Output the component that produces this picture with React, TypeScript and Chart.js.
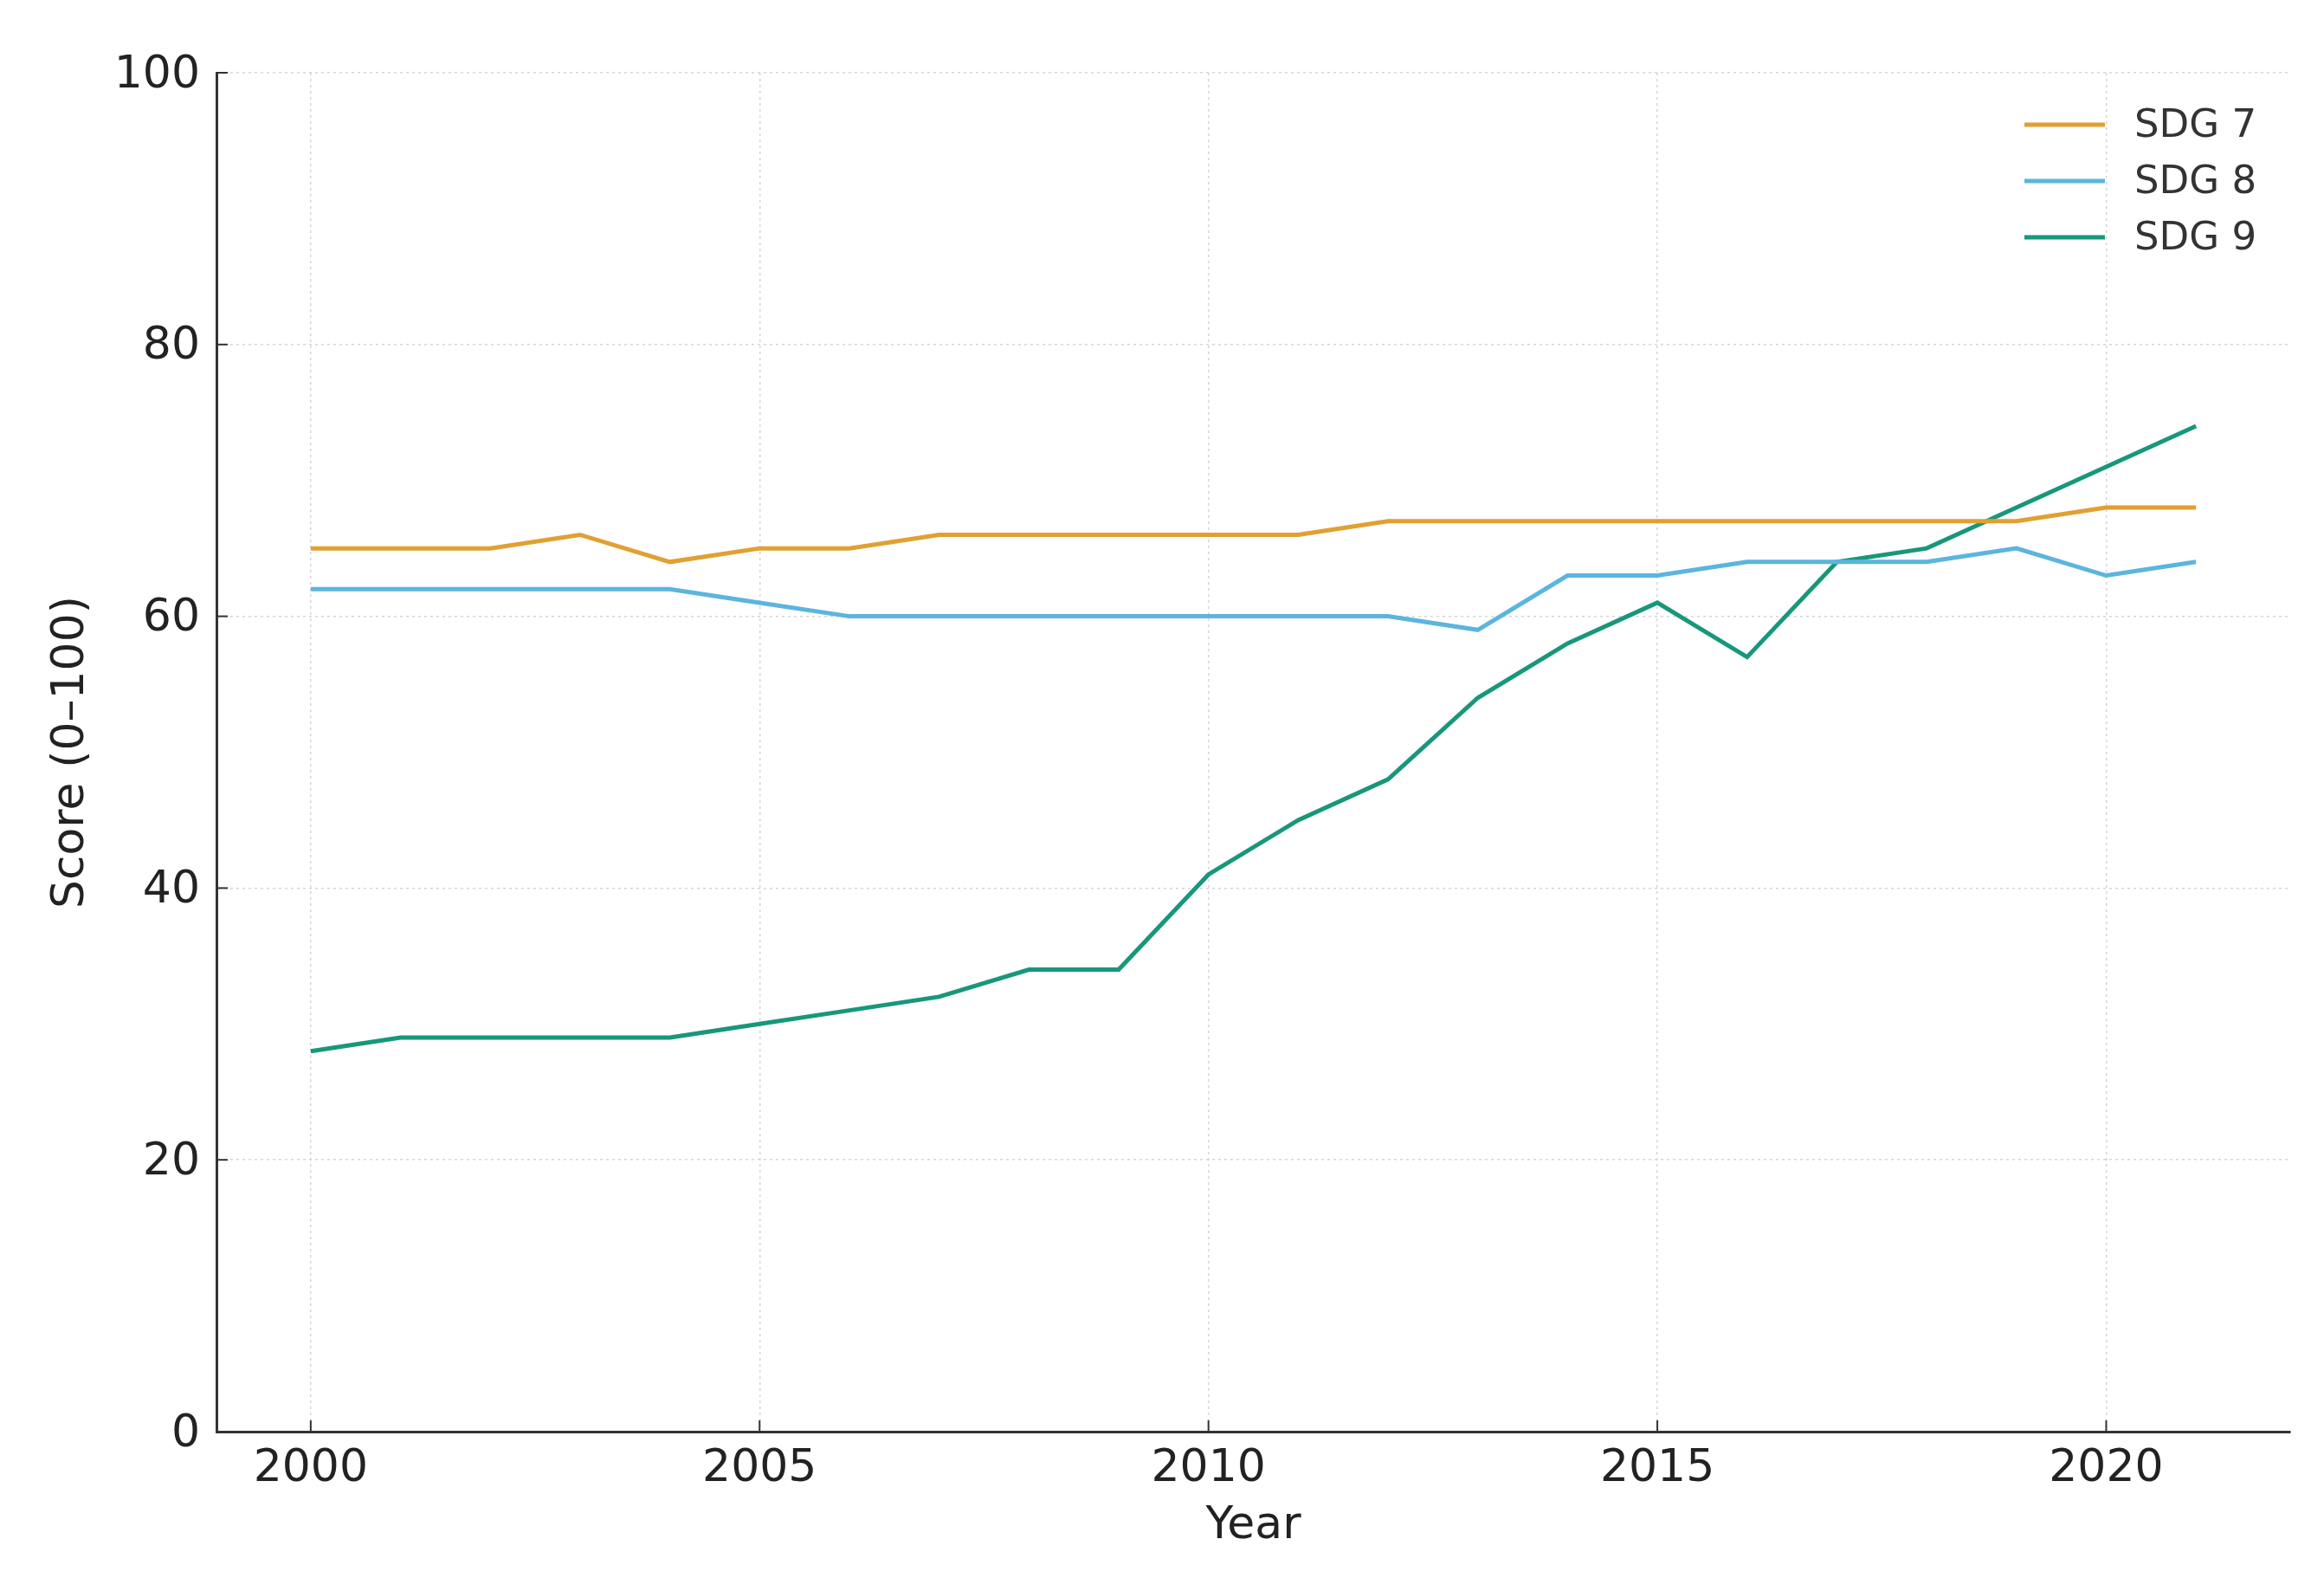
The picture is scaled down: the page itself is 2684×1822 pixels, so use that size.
import React, { useEffect, useRef } from "react";
import { Chart, registerables } from "chart.js";

Chart.register(...registerables);

const years = [2000, 2001, 2002, 2003, 2004, 2005, 2006, 2007, 2008, 2009, 2010, 2011, 2012, 2013, 2014, 2015, 2016, 2017, 2018, 2019, 2020, 2021];
const sdg7 = [65, 65, 65, 66, 64, 65, 65, 66, 66, 66, 66, 66, 67, 67, 67, 67, 67, 67, 67, 67, 68, 68];
const sdg8 = [62, 62, 62, 62, 62, 61, 60, 60, 60, 60, 60, 60, 60, 59, 63, 63, 64, 64, 64, 65, 63, 64];
const sdg9 = [28, 29, 29, 29, 29, 30, 31, 32, 34, 34, 41, 45, 48, 54, 58, 61, 57, 64, 65, 68, 71, 74];
const seriesLabels = ["SDG 7", "SDG 8", "SDG 9"];
const seriesColors = ["#E1A032", "#5BB5DE", "#18977A"];
const xTicks = [2000, 2005, 2010, 2015, 2020];
const yTicks = [0, 20, 40, 60, 80, 100];
const xTitle = "Year";
const yTitle = "Score (0–100)";

const W = 2684;
const H = 1822;
const FONT = "'DejaVu Sans', 'Liberation Sans', sans-serif";
const TEXT = "#222";
const LINE_W = 5;

export default function App() {
  const ref = useRef<HTMLCanvasElement | null>(null);

  useEffect(() => {
    const canvas = ref.current;
    if (!canvas) return;
    const series = [sdg7, sdg8, sdg9];

    const tickPlugin = {
      id: "inwardTicks",
      afterDraw(chart: any) {
        const ctx = chart.ctx;
        const { left, bottom } = chart.chartArea;
        const xs = chart.scales.x;
        const ys = chart.scales.y;
        ctx.save();
        ctx.strokeStyle = "#333";
        ctx.lineWidth = 2;
        for (const v of xTicks) {
          const px = xs.getPixelForValue(v);
          ctx.beginPath();
          ctx.moveTo(px, bottom);
          ctx.lineTo(px, bottom - 13);
          ctx.stroke();
        }
        for (const v of yTicks) {
          const py = ys.getPixelForValue(v);
          ctx.beginPath();
          ctx.moveTo(left, py);
          ctx.lineTo(left + 13, py);
          ctx.stroke();
        }
        ctx.restore();
      },
    };

    const legendPlugin = {
      id: "innerLegend",
      afterDraw(chart: any) {
        const ctx = chart.ctx;
        const { right, top } = chart.chartArea;
        ctx.save();
        ctx.font = `45px ${FONT}`;
        ctx.textBaseline = "middle";
        ctx.textAlign = "left";
        chart.data.datasets.forEach((ds: any, i: number) => {
          const y = top + 60 + i * 65;
          ctx.strokeStyle = ds.borderColor;
          ctx.lineWidth = LINE_W;
          ctx.beginPath();
          ctx.moveTo(right - 307, y);
          ctx.lineTo(right - 214, y);
          ctx.stroke();
          ctx.fillStyle = "#333";
          ctx.fillText(ds.label, right - 180, y + 2);
        });
        ctx.restore();
      },
    };

    const chart = new Chart(canvas, {
      type: "line",
      data: {
        datasets: series.map((s, i) => ({
          label: seriesLabels[i],
          data: years.map((yr, j) => ({ x: yr, y: s[j] })),
          borderColor: seriesColors[i],
          backgroundColor: seriesColors[i],
          borderWidth: LINE_W,
          pointRadius: 0,
          tension: 0,
          fill: false,
        })),
      },
      options: {
        responsive: false,
        animation: false,
        devicePixelRatio: 1,
        layout: { padding: { left: 0, right: W - 2645, top: 84, bottom: 0 } },
        plugins: {
          legend: { display: false },
          tooltip: { enabled: false },
        },
        scales: {
          x: {
            type: "linear",
            min: 1998.95,
            max: 2022.05,
            afterFit: (s: any) => {
              s.height = H - 1653;
            },
            afterBuildTicks: (s: any) => {
              s.ticks = xTicks.map((v) => ({ value: v }));
            },
            ticks: {
              font: { family: FONT, size: 52 },
              color: TEXT,
              padding: 12,
              maxRotation: 0,
              autoSkip: false,
              callback: (v: any) => String(v),
            },
            grid: { color: "#d6d6d6", lineWidth: 1.5, drawTicks: false },
            border: { display: true, color: "#333", width: 3, dash: [3, 4] },
            title: {
              display: true,
              text: xTitle,
              color: TEXT,
              font: { family: FONT, size: 52 },
              padding: { top: 0, bottom: 28 },
            },
          },
          y: {
            type: "linear",
            min: 0,
            max: 100,
            afterFit: (s: any) => {
              s.width = 250;
            },
            afterBuildTicks: (s: any) => {
              s.ticks = yTicks.map((v) => ({ value: v }));
            },
            ticks: {
              font: { family: FONT, size: 52 },
              color: TEXT,
              padding: 19,
              labelOffset: 3,
              callback: (v: any) => String(v),
            },
            grid: { color: "#d6d6d6", lineWidth: 1.5, drawTicks: false },
            border: { display: true, color: "#333", width: 3, dash: [3, 4] },
            title: {
              display: true,
              text: yTitle,
              color: TEXT,
              font: { family: FONT, size: 52 },
              padding: { top: 51, bottom: 0 },
            },
          },
        },
      },
      plugins: [tickPlugin, legendPlugin],
    });

    return () => chart.destroy();
  }, []);

  return (
    <div style={{ position: "fixed", left: 0, top: 0, width: W, height: H, background: "#fff" }}>
      <canvas ref={ref} width={W} height={H} style={{ display: "block", width: W, height: H }} />
    </div>
  );
}
